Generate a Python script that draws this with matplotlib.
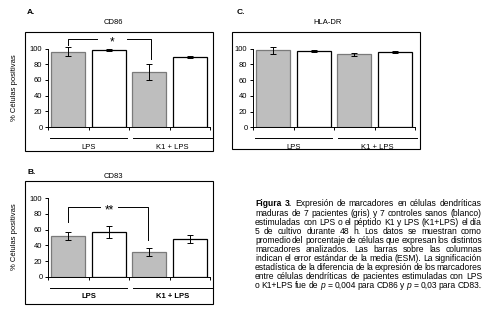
import numpy as np
import matplotlib
matplotlib.use("Agg")
import matplotlib.pyplot as plt
from matplotlib.patches import Rectangle

plt.rcParams['font.family'] = ['Liberation Sans', 'DejaVu Sans']

groups = ['LPS', 'K1 + LPS']

cd86_pac = [96, 70]
cd86_pac_err = [5.5, 10]
cd86_ctl = [98, 89]
cd86_ctl_err = [1, 1.5]

cd83_pac = [52, 32]
cd83_pac_err = [5, 5]
cd83_ctl = [57, 48]
cd83_ctl_err = [8, 5]

hla_pac = [98, 93]
hla_pac_err = [4, 2]
hla_ctl = [97, 96]
hla_ctl_err = [1, 1]

caption = [
    "Figura 3. Expresión de marcadores en células dendríticas",
    "maduras de 7 pacientes (gris) y 7 controles sanos (blanco)",
    "estimuladas con LPS o el péptido K1 y LPS (K1+LPS) el día",
    "5 de cultivo durante 48 h. Los datos se muestran como",
    "promedio del porcentaje de células que expresan los distintos",
    "marcadores analizados. Las barras sobre las columnas",
    "indican el error estándar de la media (ESM). La significación",
    "estadística de la diferencia de la expresión de los marcadores",
    "entre células dendríticas de pacientes estimuladas con LPS",
    "o K1+LPS fue de p = 0,004 para CD86 y p = 0,03 para CD83.",
]

W, H = 484, 314
fig = plt.figure(figsize=(4.84, 3.14), dpi=100)


def fx(px):
    return px / W


def fy(py):
    return 1 - py / H


def panel(left, zero_y, pac, pac_err, ctl, ctl_err, bold_labels=False):
    scale = 0.785
    ax = fig.add_axes([fx(left), fy(zero_y), 162 / W, 120 * scale / H])
    vals = [pac[0], ctl[0], pac[1], ctl[1]]
    errs = [pac_err[0], ctl_err[0], pac_err[1], ctl_err[1]]
    x = np.arange(4)
    faces = ['#bebebe', 'white', '#bebebe', 'white']
    edges = ['#7a7a7a', 'black', '#7a7a7a', 'black']
    ax.bar(x, vals, width=0.84, color=faces, edgecolor=edges, linewidth=0.9,
           zorder=2)
    ax.errorbar(x, vals, yerr=errs, fmt='none', ecolor='black', elinewidth=0.7,
                capsize=2, capthick=0.7, zorder=3)
    ax.set_xlim(-0.5, 3.5)
    ax.set_ylim(0, 120)
    ax.set_yticks(range(0, 101, 20))
    ax.set_xticks([-0.5, 0.5, 1.5, 2.5, 3.5])
    ax.set_xticklabels([])
    ax.tick_params(axis='both', direction='out', length=2.5, width=0.7,
                   labelsize=5.5, pad=1.5)
    for s in ['top', 'right']:
        ax.spines[s].set_visible(False)
    ax.spines['left'].set_bounds(0, 100)
    ax.spines['left'].set_linewidth(0.7)
    ax.spines['bottom'].set_linewidth(0.7)
    ax.patch.set_alpha(0)
    spans = [(-0.45, 1.45), (1.6, 3.55)]
    for (a, b), g in zip(spans, groups):
        ax.plot([a, b], [-14, -14], color='black', lw=0.7, clip_on=False)
        ax.text((a + b) / 2, -25.5, g, ha='center', va='center', fontsize=5.5,
                fontweight='bold' if bold_labels else 'normal')
    return ax


def bracket(ax, x0, y0, x1, y1, ytop, gap0, gap1, label):
    kw = dict(color='black', lw=0.7, clip_on=False)
    ax.plot([x0, x0, gap0], [y0, ytop, ytop], **kw)
    ax.plot([gap1, x1, x1], [ytop, ytop, y1], **kw)
    ax.text((gap0 + gap1) / 2, ytop - 4, label, ha='center', va='center',
            fontsize=8.5)


# A. CD86
axA = panel(48, 127, cd86_pac, cd86_pac_err, cd86_ctl, cd86_ctl_err)
bracket(axA, 0, 105, 2.05, 87, 112, 0.72, 1.45, '*')
# C. HLA-DR
axC = panel(253, 127.3, hla_pac, hla_pac_err, hla_ctl, hla_ctl_err)
# B. CD83
axB = panel(48, 276.7, cd83_pac, cd83_pac_err, cd83_ctl, cd83_ctl_err,
            bold_labels=True)
bracket(axB, 0, 70, 1.97, 47, 88.5, 0.78, 1.23, '**')

# outer boxes
for (x0, y0, x1, y1) in [(25, 32, 213, 151), (232, 32, 420, 149),
                         (25, 181, 213, 304)]:
    fig.add_artist(Rectangle((fx(x0), fy(y1)), (x1 - x0) / W, (y1 - y0) / H,
                             transform=fig.transFigure, fill=False,
                             edgecolor='black', lw=0.8))

# panel letters and titles
fig.text(fx(27), fy(13), 'A.', fontsize=6, fontweight='bold', va='center')
fig.text(fx(237), fy(13), 'C.', fontsize=6, fontweight='bold', va='center')
fig.text(fx(27), fy(172), 'B.', fontsize=6, fontweight='bold', va='center')
fig.text(fx(113), fy(23), 'CD86', fontsize=5.5, ha='center', va='center')
fig.text(fx(328), fy(23), 'HLA-DR', fontsize=5.5, ha='center', va='center')
fig.text(fx(113), fy(177), 'CD83', fontsize=5.5, ha='center', va='center')
fig.text(fx(15), fy(88), '% Células positivas', fontsize=5.5, rotation=90,
         ha='center', va='center')
fig.text(fx(15), fy(237), '% Células positivas', fontsize=5.5, rotation=90,
         ha='center', va='center')

# justified caption
renderer = fig.canvas.get_renderer()
cap_left, cap_right = 255, 482
cap_y0, cap_dy = 204, 9.05
for i, line in enumerate(caption):
    words = line.split(' ')
    texts = []
    for j, w in enumerate(words):
        kw = dict(fontsize=6.15, va='center', ha='left')
        if i == 0 and j < 2:
            kw['fontweight'] = 'bold'
        if w == 'p':
            kw['fontstyle'] = 'italic'
        texts.append(fig.text(0, fy(cap_y0 + i * cap_dy), w, **kw))
    widths = [t.get_window_extent(renderer).width for t in texts]
    gap = (cap_right - cap_left - sum(widths)) / max(len(words) - 1, 1)
    xpos = cap_left
    for t, wd in zip(texts, widths):
        t.set_x(fx(xpos))
        xpos += wd + gap

fig.savefig('out.png', dpi=100)
